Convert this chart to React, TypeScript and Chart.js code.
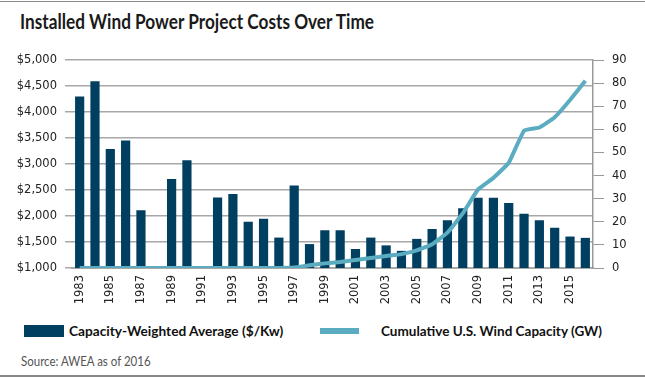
import React, { useEffect, useLayoutEffect, useRef, useState } from "react";
import { Chart, registerables } from "chart.js";

Chart.register(...registerables);

const years = [
  "1983", "1984", "1985", "1986", "1987", "1988", "1989", "1990", "1991", "1992",
  "1993", "1994", "1995", "1996", "1997", "1998", "1999", "2000", "2001", "2002",
  "2003", "2004", "2005", "2006", "2007", "2008", "2009", "2010", "2011", "2012",
  "2013", "2014", "2015", "2016",
];

const costPerKw = [
  4300, 4590, 3290, 3450, 2110, null, 2710, 3070, null, 2355,
  2425, 1890, 1945, 1585, 2585, 1460, 1725, 1725, 1365, 1585,
  1435, 1330, 1560, 1750, 1920, 2150, 2350, 2350, 2250, 2045,
  1920, 1775, 1605, 1580,
];

const capacityGW = [
  0, 0, 0, 0, 0, 0, 0, 0, 0, 0,
  0, 0, 0, 0, 0.2, 1.2, 2.0, 2.6, 3.5, 4.3,
  5.2, 6.0, 7.6, 10.3, 15.3, 23.6, 34.0, 39.0, 45.5, 59.4,
  60.8, 65.2, 72.7, 81.0,
];

const titleText = "Installed Wind Power Project Costs Over Time";
const barLabel = "Capacity-Weighted Average ($/Kw)";
const lineLabel = "Cumulative U.S. Wind Capacity (GW)";
const sourceText = "Source: AWEA as of 2016";

const NAVY = "#003f5f";
const TEAL = "#5bacc1";
const GRID = "#a8a8a8";
const TICK_FONT = { family: "'DejaVu Sans', sans-serif", size: 11.5 };

function FitText({ text, width, style }: { text: string; width: number; style: React.CSSProperties }) {
  const ref = useRef<HTMLSpanElement>(null);
  const [scale, setScale] = useState(1);
  useLayoutEffect(() => {
    if (ref.current) {
      const w = ref.current.offsetWidth;
      if (w > 0) setScale(width / w);
    }
  }, [text, width]);
  return (
    <span
      ref={ref}
      style={{
        ...style,
        display: "inline-block",
        whiteSpace: "nowrap",
        transform: `scaleX(${scale})`,
        transformOrigin: "left center",
      }}
    >
      {text}
    </span>
  );
}

export default function App() {
  const canvasRef = useRef<HTMLCanvasElement>(null);

  useEffect(() => {
    if (!canvasRef.current) return;
    const chart = new Chart(canvasRef.current, {
      type: "bar",
      data: {
        labels: years,
        datasets: [
          {
            type: "line",
            label: lineLabel,
            data: capacityGW,
            yAxisID: "yRight",
            borderColor: TEAL,
            backgroundColor: TEAL,
            borderWidth: 4,
            pointRadius: 0,
            tension: 0.1,
            borderJoinStyle: "round",
            order: 0,
          },
          {
            type: "bar",
            label: barLabel,
            data: costPerKw,
            yAxisID: "yLeft",
            backgroundColor: NAVY,
            barPercentage: 0.6,
            categoryPercentage: 1,
            order: 1,
          },
        ],
      },
      options: {
        responsive: false,
        animation: false,
        devicePixelRatio: 1,
        layout: { padding: { top: 20, left: 0, right: 0, bottom: 0 } },
        plugins: {
          legend: { display: false },
          title: { display: false },
          tooltip: { enabled: false },
        },
        scales: {
          x: {
            grid: { display: false, drawTicks: false },
            border: { display: true, color: GRID, width: 2 },
            ticks: {
              autoSkip: false,
              minRotation: 90,
              maxRotation: 90,
              padding: 7,
              color: "#222",
              font: TICK_FONT,
              callback: (_v: any, i: number) => (i % 2 === 0 ? years[i] : ""),
            },
            afterFit: (s: any) => {
              s.height = 47;
            },
          },
          yLeft: {
            position: "left",
            min: 1000,
            max: 5000,
            ticks: {
              stepSize: 500,
              padding: 8,
              color: "#222",
              font: TICK_FONT,
              callback: (v: any) => "$" + Number(v).toLocaleString("en-US"),
            },
            grid: { color: GRID, lineWidth: 1.5, tickLength: 7, drawTicks: true },
            border: { display: false },
            afterFit: (s: any) => {
              s.width = 72;
            },
          },
          yRight: {
            position: "right",
            min: 0,
            max: 90,
            ticks: {
              stepSize: 10,
              padding: 8,
              color: "#222",
              font: TICK_FONT,
            },
            grid: { drawOnChartArea: false, drawTicks: true, tickLength: 11, color: "#999", lineWidth: 1 },
            border: { display: true, color: "#999", width: 1.5 },
            afterFit: (s: any) => {
              s.width = 52;
            },
          },
        },
      },
    } as any);
    return () => chart.destroy();
  }, []);

  const boldFont: React.CSSProperties = {
    fontFamily: "Lato, 'Open Sans', sans-serif",
    fontWeight: 700,
    color: "#111",
  };

  return (
    <div
      style={{
        position: "absolute",
        left: 0,
        top: 0,
        width: 645,
        height: 378,
        background: "#fff",
        overflow: "hidden",
      }}
    >
      <div style={{ position: "absolute", left: 0, top: 1, width: 645, height: 1, background: "#888" }} />
      <div style={{ position: "absolute", left: 20, top: 8, height: 26, display: "flex", alignItems: "center" }}>
        <FitText text={titleText} width={354} style={{ ...boldFont, fontSize: 20, lineHeight: "26px", color: "#1a1a1a" }} />
      </div>
      <canvas
        ref={canvasRef}
        width={645}
        height={275}
        style={{ position: "absolute", left: 0, top: 40, width: 645, height: 275 }}
      />
      <div style={{ position: "absolute", left: 24, top: 325, width: 40, height: 12, background: NAVY }} />
      <div style={{ position: "absolute", left: 69, top: 322, height: 18, display: "flex", alignItems: "center" }}>
        <FitText text={barLabel} width={214} style={{ ...boldFont, fontSize: 14, lineHeight: "18px" }} />
      </div>
      <div style={{ position: "absolute", left: 320, top: 328, width: 39, height: 6, background: TEAL }} />
      <div style={{ position: "absolute", left: 381, top: 322, height: 18, display: "flex", alignItems: "center" }}>
        <FitText text={lineLabel} width={221} style={{ ...boldFont, fontSize: 14, lineHeight: "18px" }} />
      </div>
      <div style={{ position: "absolute", left: 21, top: 352, height: 18, display: "flex", alignItems: "center" }}>
        <FitText
          text={sourceText}
          width={130}
          style={{ fontFamily: "Lato, 'Open Sans', sans-serif", fontWeight: 400, fontSize: 13, lineHeight: "18px", color: "#555" }}
        />
      </div>
      <div style={{ position: "absolute", left: 0, top: 375, width: 645, height: 2, background: "#888" }} />
    </div>
  );
}
